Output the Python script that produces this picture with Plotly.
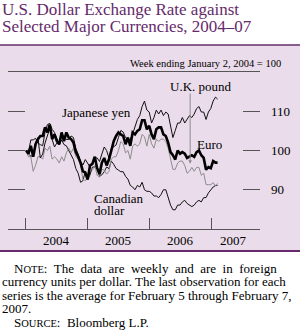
import pandas as pd
import plotly.graph_objects as go

dates = list(pd.date_range("2004-01-02", periods=81, freq="14D").strftime("%Y-%m-%d")) + ["2007-02-07"]

euro = [100,99.2,101.2,98.4,101.6,102.9,103.7,103.7,105.9,104.6,
        106.6,102.9,104.1,102.4,101.6,104.6,102.4,104.6,103.3,102.9,
        102.0,99.6,98.4,96.9,94.7,94.4,92.6,96.2,96.6,98.4,
        95.5,94.0,96.9,98.1,96.2,97.7,100.0,102.4,103.7,104.6,
        104.1,103.7,101.6,103.3,101.2,104.6,104.1,105.0,105.4,107.7,
        107.7,105.4,106.3,104.1,102.9,105.4,105.9,105.9,104.1,103.7,
        102.0,99.6,98.8,97.7,100.0,99.2,99.6,99.2,98.1,98.4,
        98.8,98.4,99.6,100.0,98.8,98.1,95.1,95.8,95.5,97.3,
        96.9,96.9]
yen = [100,99.1,98.6,98.6,101.9,103.3,98.1,99.1,101.9,103.7,
       105.6,102.8,100.9,101.9,101.9,103.7,103.7,102.8,102.8,103.7,
       103.3,100.5,99.1,97.2,96.3,97.7,96.7,95.8,96.7,98.1,
       98.1,97.2,99.1,100.9,100.0,98.1,100.5,100.9,101.4,103.3,
       105.1,104.7,103.3,102.8,102.8,104.2,106.1,107.9,108.9,111.2,
       112.6,110.3,109.8,107.0,108.4,110.3,109.3,110.3,108.9,109.8,
       109.3,106.1,103.3,105.1,107.0,107.0,108.4,107.0,107.9,108.9,
       108.4,109.3,110.7,111.2,109.8,109.8,107.9,109.8,110.7,112.6,
       113.6,113.1]
pound = [100,98.4,98.4,94.7,96.2,98.4,98.4,97.8,100.6,100.0,
         101.1,97.8,98.4,97.8,96.8,98.4,97.3,99.4,100.6,99.4,
         100.6,98.4,97.8,96.2,92.7,92.3,93.2,95.7,95.0,96.2,
         93.7,93.2,95.2,95.0,94.0,94.7,97.8,98.4,98.4,100.0,
         102.3,101.7,99.4,100.0,97.8,101.1,101.7,101.1,101.7,104.1,
         103.5,101.1,104.1,101.7,100.6,102.9,102.3,102.9,102.9,102.3,
         100.6,97.8,95.2,95.2,96.8,97.3,97.3,96.2,94.2,94.7,
         95.7,94.7,95.7,95.7,93.7,94.2,91.3,91.3,91.3,91.8,
         90.9,91.6]
cad = [100,99.6,102.7,102.7,103.1,101.9,101.5,101.2,104.6,106.6,
       106.9,105.4,104.6,103.1,101.5,102.7,101.5,101.2,100.0,98.5,
       97.7,95.4,94.2,91.9,92.3,94.6,92.7,93.8,95.8,95.8,
       96.1,93.4,93.8,94.6,95.8,95.4,97.3,96.5,95.4,95.0,
       94.6,94.6,93.4,92.7,91.1,90.7,90.0,91.1,90.7,91.9,
       90.0,89.6,89.6,89.2,88.4,88.4,88.0,88.8,90.0,90.0,
       88.0,86.1,84.9,84.9,86.1,86.1,86.9,87.3,86.5,86.1,
       85.7,86.1,86.9,87.3,86.9,88.0,88.0,89.2,90.0,90.7,
       91.1,91.1]

y_ticks = [90, 100, 110]
year_labels = ["2004", "2005", "2006", "2007"]
year_label_pos = ["2004-07-01", "2005-07-01", "2006-07-01", "2007-05-15"]
year_bounds = ["2003-09-17", "2004-01-01", "2005-01-01", "2006-01-01", "2007-01-01", "2007-10-16"]

W, H = 300, 333
L, R, T, B = 8, 260, 72, 229
def px(x):
    return (x - L) / (R - L)
def py(y):
    return (B - y) / (B - T)

SERIF = "Liberation Serif"
PURPLE = "#652a6b"

fig = go.Figure()
fig.add_trace(go.Scatter(x=dates, y=cad, mode="lines", line=dict(color="#111", width=1), name="Canadian dollar"))
fig.add_trace(go.Scatter(x=dates, y=pound, mode="lines", line=dict(color="#8c8c8c", width=1), name="U.K. pound"))
fig.add_trace(go.Scatter(x=dates, y=yen, mode="lines", line=dict(color="#111", width=1), name="Japanese yen"))
fig.add_trace(go.Scatter(x=dates, y=euro, mode="lines", line=dict(color="#000", width=2.6), name="Euro"))

shapes = [
    dict(type="rect", xref="paper", yref="paper", x0=px(0), x1=px(300), y0=py(250.5), y1=py(45.5),
         fillcolor="#eadcea", line=dict(width=0), layer="below"),
    dict(type="line", xref="paper", yref="paper", x0=px(0), x1=px(300), y0=py(45), y1=py(45),
         line=dict(color=PURPLE, width=1.5)),
    dict(type="line", xref="paper", yref="paper", x0=px(0), x1=px(300), y0=py(251), y1=py(251),
         line=dict(color=PURPLE, width=2)),
]

ann = []
def text(x, y, s, size, xanchor="left", color="black"):
    ann.append(dict(x=px(x), y=py(y), xref="paper", yref="paper", text=s, showarrow=False,
                    xanchor=xanchor, yanchor="middle", font=dict(family=SERIF, size=size, color=color)))

text(0, 9, "U.S. Dollar Exchange Rate against", 17, color=PURPLE)
text(0, 26, "Selected Major Currencies, 2004–07", 17, color=PURPLE)
text(283, 63, "Week ending January 2, 2004 = 100", 10.5, xanchor="right")
text(201, 86, "U.K. pound", 13, xanchor="center")
text(96, 112, "Japanese yen", 13, xanchor="center")
text(195, 144, "Euro", 13)
text(92, 198, "Canadian", 13)
text(92, 210, "dollar", 13)

sc = lambda s: '<span style="font-size:10.5px">%s</span>' % s
sp = "&nbsp; "
text(12, 268, "N" + sc("OTE") + ":" + sp + "The" + sp + "data" + sp + "are" + sp + "weekly" + sp + "and" + sp + "are" + sp + "in" + sp + "foreign", 13)
text(0, 281.5, "currency units per dollar. The last observation for each", 13)
text(0, 295, "series is the average for February 5 through February 7,", 13)
text(0, 308, "2007.", 13)
text(12, 322, "S" + sc("OURCE") + ":  Bloomberg L.P.", 13)

for lab, pos in zip(year_labels, year_label_pos):
    ann.append(dict(x=pos, y=py(240), xref="x", yref="paper", text=lab, showarrow=False,
                    xanchor="center", yanchor="middle", font=dict(family=SERIF, size=13, color="black")))

ann.append(dict(x="2006-08-29", y=96.6, xref="x", yref="y", ax="2006-08-29", ay=114.9,
                axref="x", ayref="y", text="", showarrow=True, arrowhead=2, arrowsize=0.7,
                arrowwidth=1, arrowcolor="#8c8c8c"))

fig.update_layout(
    width=W, height=H,
    margin=dict(l=L, r=W - R, t=T, b=H - B, pad=0),
    paper_bgcolor="white", plot_bgcolor="rgba(0,0,0,0)",
    showlegend=False, shapes=shapes, annotations=ann,
    xaxis=dict(type="date", range=[year_bounds[0], year_bounds[-1]], showline=True, mirror=True,
               linecolor="#555", linewidth=1, ticks="inside", ticklen=11, tickcolor="#555",
               tickvals=year_bounds, showticklabels=False, showgrid=False, zeroline=False),
    yaxis=dict(range=[80, 120], side="right", tickvals=y_ticks, ticks="inside", ticklen=17,
               tickcolor="#555", mirror="ticks", showline=False, showgrid=False, zeroline=False,
               ticklabelstandoff=10, tickfont=dict(family=SERIF, size=13, color="black")),
)

fig.write_html("out.html")
